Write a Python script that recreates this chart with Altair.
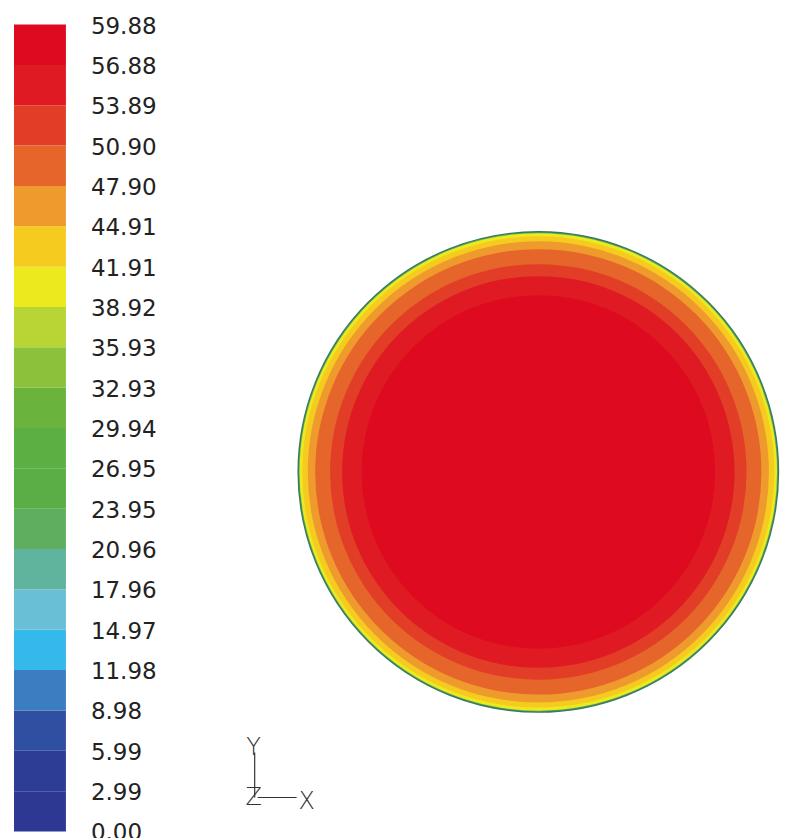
import math
import altair as alt
import pandas as pd

# ---- colour bar (bottom -> top) ----
band_lower = [0.00, 2.99, 5.99, 8.98, 11.98, 14.97, 17.96, 20.96, 23.95, 26.95,
              29.94, 32.93, 35.93, 38.92, 41.91, 44.91, 47.90, 50.90, 53.89, 56.88]
band_upper = [2.99, 5.99, 8.98, 11.98, 14.97, 17.96, 20.96, 23.95, 26.95, 29.94,
              32.93, 35.93, 38.92, 41.91, 44.91, 47.90, 50.90, 53.89, 56.88, 59.88]
band_colors = ["#2D3892", "#2D3D96", "#2F4FA0", "#3C7CC0", "#35B8EC", "#68BFD6",
               "#5FB49E", "#5FAD5E", "#5BAE45", "#5CB043", "#6AB43E", "#8CC13C",
               "#B8D435", "#EDE91F", "#F6CB1F", "#EF9A2C", "#E6652A", "#E23D26",
               "#DF1A22", "#DE0A1F"]
label_values = [0.00, 2.99, 5.99, 8.98, 11.98, 14.97, 17.96, 20.96, 23.95, 26.95,
                29.94, 32.93, 35.93, 38.92, 41.91, 44.91, 47.90, 50.90, 53.89, 56.88, 59.88]

# ---- contour rings of the circular section (outer radius r/R, band lower value) ----
ring_r = [1.000, 0.994, 0.981, 0.960, 0.927, 0.865, 0.815, 0.736]
ring_band = [20.96, 38.92, 41.91, 44.91, 47.90, 50.90, 53.89, 56.88]

band_keys = [f"{v:.2f}" for v in band_lower]

bars = pd.DataFrame({"lo": band_lower, "hi": band_upper, "band": band_keys})
labels = pd.DataFrame({"v": label_values, "t": [f"{v:.2f}" for v in label_values]})
rings = pd.DataFrame({"r": ring_r, "band": [f"{v:.2f}" for v in ring_band],
                      "k": list(range(len(ring_r)))})

W, H = 768, 808
yscale = alt.Scale(domain=[0, 59.88], range=[H, 0], nice=False, zero=False)
cscale = alt.Scale(domain=band_keys, range=band_colors)
rscale = alt.Scale(type="linear", domain=[0, 1], range=[0, 240.5], zero=True, nice=False)

colorbar = alt.Chart(bars).mark_rect().encode(
    x=alt.value(0), x2=alt.value(52),
    y=alt.Y("lo:Q", scale=yscale, axis=None),
    y2="hi:Q",
    color=alt.Color("band:N", scale=cscale, legend=None),
)

bar_labels = alt.Chart(labels).mark_text(
    align="left", baseline="middle", font="DejaVu Sans", fontSize=23,
    color="#222222", dy=2,
).encode(
    x=alt.value(77),
    y=alt.Y("v:Q", scale=yscale, axis=None),
    text="t:N",
)

disc = alt.Chart(rings).mark_arc(theta=0, theta2=2 * math.pi).encode(
    x=alt.value(525), y=alt.value(448),
    radius=alt.Radius("r:Q", scale=rscale, stack=None),
    color=alt.Color("band:N", scale=cscale, legend=None),
    order=alt.Order("k:Q"),
)

edge = alt.Chart(rings).transform_filter("datum.k == 0").mark_arc(
    theta=0, theta2=2 * math.pi, filled=False, stroke="#3A7A5C", strokeWidth=1.4,
).encode(
    x=alt.value(525), y=alt.value(448),
    radius=alt.Radius("r:Q", scale=rscale, stack=None),
)

one = alt.Data(values=[{"a": 1}])
tri_style = dict(font="DejaVu Sans", fontSize=24, color="#333333", fontWeight=300)
tri_y = alt.Chart(one).mark_text(text="Y", **tri_style).encode(x=alt.value(240), y=alt.value(724))
tri_z = alt.Chart(one).mark_text(text="Z", **tri_style).encode(x=alt.value(240), y=alt.value(774))
tri_x = alt.Chart(one).mark_text(text="X", **tri_style).encode(x=alt.value(293), y=alt.value(778))
tri_v = alt.Chart(one).mark_rule(color="#333333", strokeWidth=1.2).encode(
    x=alt.value(241), y=alt.value(729), y2=alt.value(774))
tri_h = alt.Chart(one).mark_rule(color="#333333", strokeWidth=1.2).encode(
    x=alt.value(244), x2=alt.value(283), y=alt.value(774))

chart = alt.layer(colorbar, bar_labels, disc, edge, tri_v, tri_h, tri_y, tri_z, tri_x).properties(
    width=W, height=H,
    padding={"left": 6, "top": 7, "right": 0, "bottom": 0},
    background="white",
).configure_view(strokeWidth=0)

chart.save("out.html", embed_options={"renderer": "svg", "actions": False})
